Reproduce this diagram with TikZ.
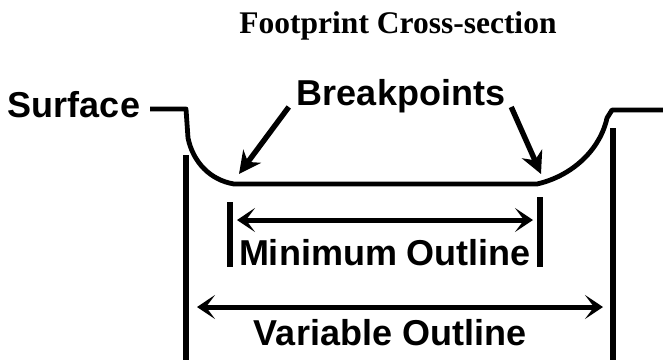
\documentclass[tikz,border=0pt]{standalone}
\usepackage{fontspec}
\setmainfont{Liberation Sans}
\newfontfamily\titlefont{Liberation Serif}
\usepackage{tikz}
\usetikzlibrary{arrows.meta,positioning,calc}

\begin{document}
\begin{tikzpicture}[
  x=1pt, y=-1pt,
  lbl/.style={inner sep=0pt, font=\fontsize{36}{40}\selectfont\bfseries},
  prof/.style={line width=4.8pt, line join=round},
  wall/.style={line width=5.8pt},
  dim/.style={line width=5pt, {Stealth[length=18pt,width=24pt,inset=9pt]}-{Stealth[length=18pt,width=24pt,inset=9pt]}},
  ptr/.style={line width=5.4pt, -{Stealth[length=22pt,width=22pt,inset=7pt]}}
]
\useasboundingbox (0,0) rectangle (663,360);
% title
\node[inner sep=0pt, font=\fontsize{31.5}{34}\selectfont\titlefont\bfseries] (title) at (398,26) {Footprint Cross-section};
% profile of the footprint
\draw[prof] (150,109) -- (186,109) -- (188,138)
  .. controls (193,162) and (210,180) .. (234,184) -- (537,184)
  .. controls (572,176) and (600,150) .. (607,118) -- (612,110) -- (663,110);
% walls
\draw[wall] (186,155) -- (186,360);
\draw[wall] (613,128) -- (613,360);
\draw[wall] (230,202) -- (230,267);
\draw[wall] (540,197) -- (540,267);
% labels
\node[lbl] (surf) at (74,105) {Surface};
\node[lbl] (bp) at (401,96) {Breakpoints};
\node[lbl] (minlbl) at (385,253) {Minimum Outline};
\node[lbl] (varlbl) at (390,333) {Variable Outline};
% breakpoint pointers
\coordinate (bk1) at (239,174);
\coordinate (bk2) at (541,174);
\draw[ptr] ($(bp.south west)+(-8,-6)$) -- (bk1);
\draw[ptr] ($(bp.south east)+(6,-6)$) -- (bk2);
% dimensions
\coordinate (mina) at (237,220);
\coordinate (minb) at (533,220);
\coordinate (vara) at (197,307);
\coordinate (varb) at (603,307);
\draw[dim] (mina) -- (minb);
\draw[dim] (vara) -- (varb);
\end{tikzpicture}
\end{document}
